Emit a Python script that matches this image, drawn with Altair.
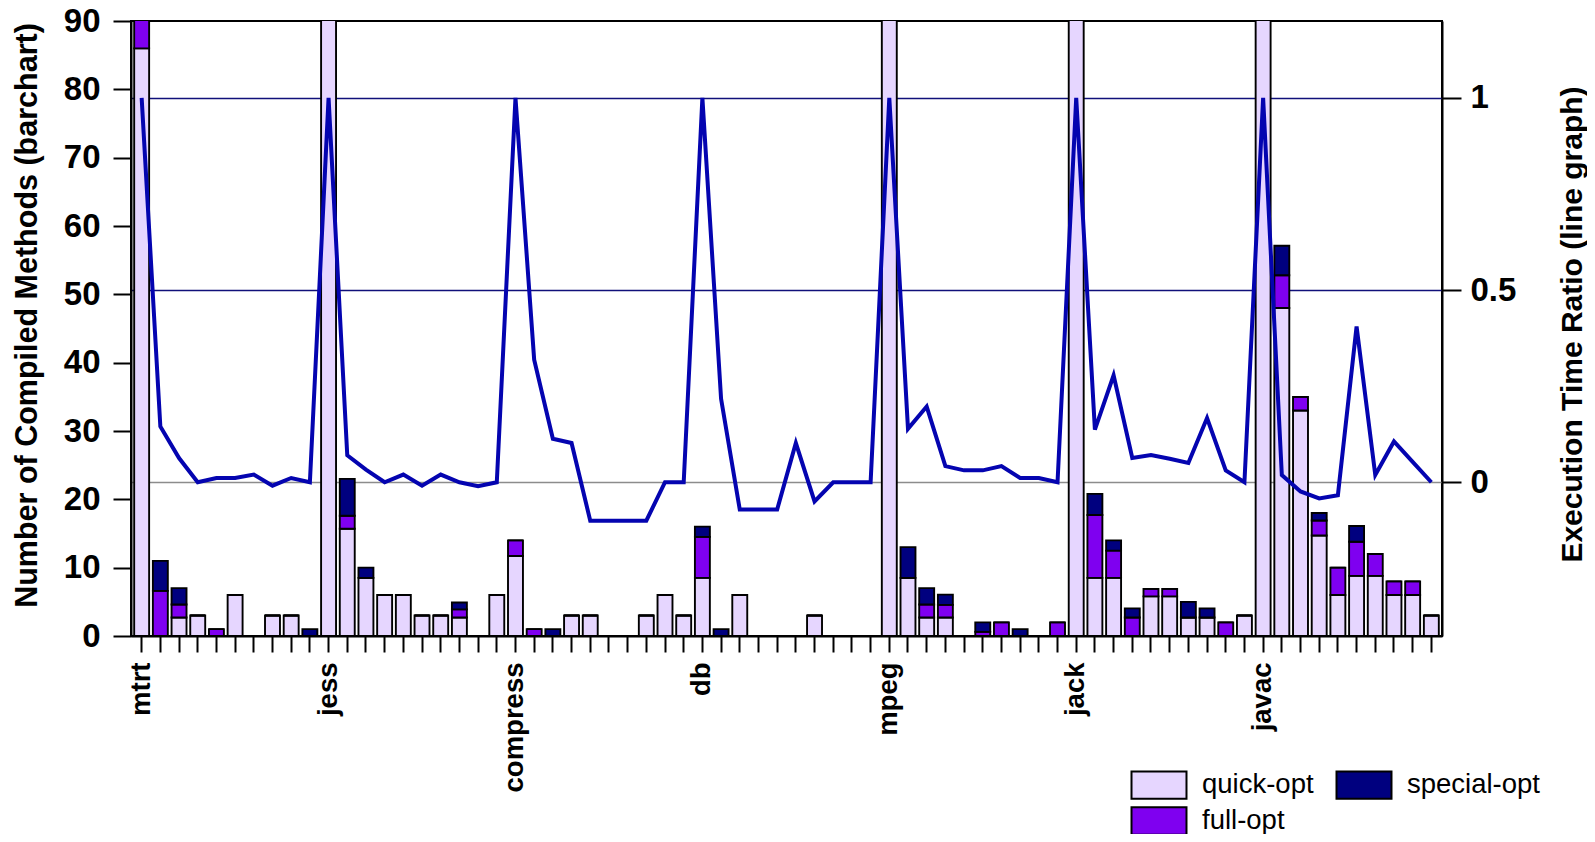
import altair as alt
import pandas as pd

benchmarks = ["mtrt", "jess", "compress", "db", "mpeg", "jack", "javac"]

quick_opt = [
    86, 0, 2.7, 3, 0, 6, 0, 3, 3, 0,
    100, 15.7, 8.5, 6, 6, 3, 3, 2.7, 0, 6,
    11.7, 0, 0, 3, 3, 0, 0, 3, 6, 3,
    8.5, 0, 6, 0, 0, 0, 3, 0, 0, 0,
    100, 8.5, 2.7, 2.7, 0, 0, 0, 0, 0, 0,
    100, 8.5, 8.5, 0, 5.8, 5.8, 2.7, 2.7, 0, 3,
    100, 48, 33, 14.7, 6, 8.8, 8.8, 6, 6, 3,
]
full_opt = [
    8, 6.6, 1.9, 0, 1, 0, 0, 0, 0, 0,
    0, 1.9, 0, 0, 0, 0, 0, 1.2, 0, 0,
    2.3, 1, 0, 0, 0, 0, 0, 0, 0, 0,
    6, 0, 0, 0, 0, 0, 0, 0, 0, 0,
    0, 0, 1.9, 1.85, 0, 0.6, 2, 0, 0, 2,
    0, 9.2, 4, 2.7, 1.1, 1.1, 0, 0, 2, 0,
    0, 4.8, 2, 2.2, 4, 5, 3.2, 2, 2, 0,
]
special_opt = [
    0, 4.4, 2.4, 0, 0, 0, 0, 0, 0, 1,
    0, 5.4, 1.5, 0, 0, 0, 0, 1, 0, 0,
    0, 0, 1, 0, 0, 0, 0, 0, 0, 0,
    1.5, 1, 0, 0, 0, 0, 0, 0, 0, 0,
    0, 4.5, 2.4, 1.5, 0, 1.4, 0, 1, 0, 0,
    0, 3.1, 1.5, 1.35, 0, 0, 2.3, 1.35, 0, 0,
    0, 4.3, 0, 1.1, 0, 2.3, 0, 0, 0, 0,
]
time_ratio = [
    1.0, 0.145, 0.063, 0.0, 0.011, 0.011, 0.02, -0.009, 0.011, 0.0,
    1.0, 0.07, 0.033, 0.0, 0.02, -0.009, 0.02, 0.0, -0.01, 0.0,
    1.0, 0.319, 0.113, 0.102, -0.1, -0.1, -0.1, -0.1, 0.0, 0.0,
    1.0, 0.217, -0.071, -0.071, -0.071, 0.102, -0.05, 0.0, 0.0, 0.0,
    1.0, 0.139, 0.197, 0.042, 0.031, 0.031, 0.042, 0.011, 0.011, 0.0,
    1.0, 0.137, 0.278, 0.063, 0.071, 0.061, 0.05, 0.167, 0.031, 0.0,
    1.0, 0.019, -0.024, -0.042, -0.034, 0.405, 0.019, 0.106, 0.053, 0.0,
]

kinds = ["quick-opt", "full-opt", "special-opt"]
kind_colors = ["#E6D6FF", "#7F00F0", "#00007F"]

rows = []
for k, (name, vals) in enumerate(zip(kinds, [quick_opt, full_opt, special_opt])):
    for i, v in enumerate(vals):
        rows.append({"slot": i, "kind": name, "count": v, "stack": k})
bars_df = pd.DataFrame(rows)
line_df = pd.DataFrame({"slot": list(range(len(time_ratio))), "ratio": time_ratio})

FONT = "Liberation Sans"
label_expr = "datum.value % 10 == 0 ? " + str(benchmarks) + "[floor(datum.value / 10)] : ''"

x_enc = alt.X(
    "slot:O",
    scale=alt.Scale(paddingInner=0.2, paddingOuter=0.17),
    axis=alt.Axis(
        title=None, labelExpr=label_expr, labelAngle=270, labelFont=FONT,
        labelFontSize=27.5, labelFontWeight="bold", labelColor="black",
        labelPadding=10, tickSize=16, tickColor="black", tickWidth=2,
        domainColor="black", domainWidth=2, labelOverlap=False,
    ),
)

bars = alt.Chart(bars_df).mark_bar(stroke="black", strokeWidth=1.9, clip=True).encode(
    x=x_enc,
    y=alt.Y(
        "count:Q", stack="zero",
        scale=alt.Scale(domain=[0, 90], nice=False),
        axis=alt.Axis(
            orient="left", title="Number of Compiled Methods (barchart)",
            values=list(range(0, 91, 10)), grid=False,
            labelFont=FONT, labelFontSize=33, labelFontWeight="bold", labelColor="black",
            labelPadding=13, tickSize=18, tickWidth=2, tickColor="black",
            domainColor="black", domainWidth=2,
            titleFont=FONT, titleFontSize=30.5, titleFontWeight="bold", titleColor="black",
            titleX=-89, titleY=294,
        ),
    ),
    color=alt.Color(
        "kind:N",
        scale=alt.Scale(domain=kinds, range=kind_colors),
        legend=alt.Legend(
            orient="none", legendX=1013, legendY=749, columns=2, title=None,
            symbolType="M-2,-1H2V1H-2Z", symbolSize=756,
            symbolStrokeColor="black", symbolStrokeWidth=2, symbolOpacity=1,
            labelFont=FONT, labelFontSize=27.5, labelColor="black",
            labelOffset=28, columnPadding=18, rowPadding=0, padding=0,
        ),
    ),
    order=alt.Order("stack:Q", sort="ascending"),
)

line = alt.Chart(line_df).mark_line(color="#0404B0", strokeWidth=4).encode(
    x=alt.X("slot:O", bandPosition=0.5),
    y=alt.Y(
        "ratio:Q",
        scale=alt.Scale(domain=[-0.4, 1.2], nice=False, zero=False),
        axis=alt.Axis(
            orient="right", title="Execution Time Ratio (line graph)",
            values=[0, 0.5, 1], format="~g", grid=True,
            gridColor={"condition": {"test": "datum.value === 0", "value": "#8c8c8c"}, "value": "#10107a"},
            gridWidth=1.5,
            labelFont=FONT, labelFontSize=33, labelFontWeight="bold", labelColor="black",
            labelPadding=9, tickSize=19, tickWidth=2, tickColor="black",
            domainColor="black", domainWidth=2,
            titleFont=FONT, titleFontSize=30, titleFontWeight="bold", titleColor="black",
            titleAngle=270, titleBaseline="top", titleX=115, titleY=303,
        ),
    ),
)

chart = (
    alt.layer(bars, line)
    .resolve_scale(y="independent")
    .properties(
        width=1311, height=615,
        autosize=alt.AutoSizeParams(type="none"),
        padding={"left": 123, "top": 13, "right": 145, "bottom": 198},
        background="white",
    )
    .configure_view(stroke="black", strokeWidth=2)
)

chart.save("out.html", embed_options={"renderer": "svg", "actions": False})
